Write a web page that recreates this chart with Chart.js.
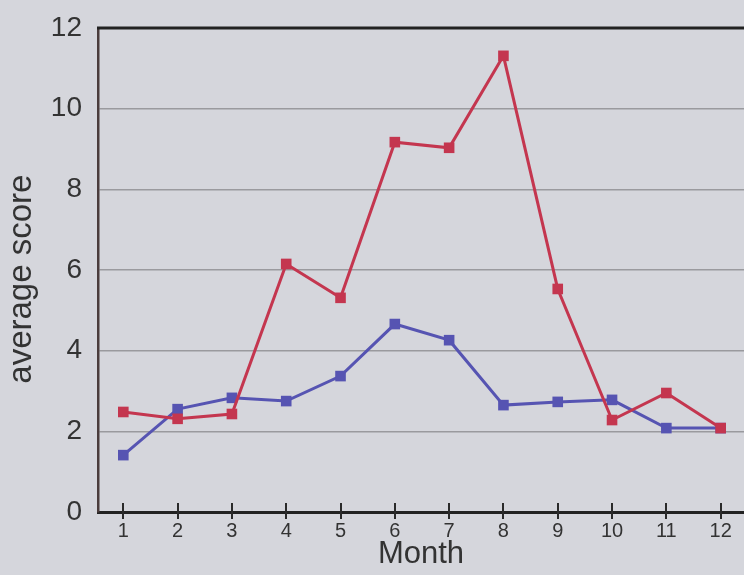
<!DOCTYPE html>
<html>
<head>
<meta charset="utf-8">
<script src="https://cdn.jsdelivr.net/npm/chart.js@4/dist/chart.umd.min.js"></script>
<style>
  html, body { margin: 0; padding: 0; background: #d5d6dc; }
  #wrap { width: 744px; height: 575px; position: relative; }
</style>
</head>
<body>
<div id="wrap"><canvas id="c" width="744" height="575"></canvas></div>
<script>
const months = [1, 2, 3, 4, 5, 6, 7, 8, 9, 10, 11, 12];
const redSeries = [2.48, 2.31, 2.43, 6.15, 5.31, 9.17, 9.03, 11.31, 5.53, 2.28, 2.95, 2.08];
const blueSeries = [1.41, 2.55, 2.83, 2.75, 3.37, 4.66, 4.26, 2.65, 2.73, 2.78, 2.08, 2.08];
const yTicks = [0, 2, 4, 6, 8, 10, 12];
const xTitle = 'Month';
const yTitle = 'average score';

const toPoints = (vals) => months.map((m, i) => ({ x: m, y: vals[i] }));

const frame = {
  id: 'frame',
  afterDatasetsDraw(chart) {
    const { ctx, chartArea } = chart;
    const xs = chart.scales.x;
    ctx.save();
    // top border
    ctx.strokeStyle = '#222222';
    ctx.lineWidth = 3;
    ctx.beginPath();
    ctx.moveTo(chartArea.left - 1, chartArea.top);
    ctx.lineTo(chartArea.right, chartArea.top);
    ctx.stroke();
    // tick marks crossing the x axis
    ctx.strokeStyle = '#2a2a2a';
    ctx.lineWidth = 2;
    months.forEach(m => {
      const px = Math.round(xs.getPixelForValue(m));
      ctx.beginPath();
      ctx.moveTo(px, chartArea.bottom - 9);
      ctx.lineTo(px, chartArea.bottom + 7);
      ctx.stroke();
    });
    ctx.restore();
  }
};

new Chart(document.getElementById('c'), {
  type: 'line',
  data: {
    datasets: [
      {
        data: toPoints(redSeries),
        borderColor: '#c4364f',
        backgroundColor: '#c4364f',
        borderWidth: 3,
        pointStyle: 'rect',
        pointRadius: 7.5,
        pointBorderWidth: 0,
        pointBackgroundColor: '#c4364f',
        tension: 0
      },
      {
        data: toPoints(blueSeries),
        borderColor: '#5654b2',
        backgroundColor: '#5654b2',
        borderWidth: 3,
        pointStyle: 'rect',
        pointRadius: 7.5,
        pointBorderWidth: 0,
        pointBackgroundColor: '#5654b2',
        tension: 0
      }
    ]
  },
  options: {
    responsive: false,
    animation: false,
    devicePixelRatio: 1,
    layout: { autoPadding: false, padding: { top: 28, right: 0, left: 0, bottom: 0 } },
    plugins: { legend: { display: false }, tooltip: { enabled: false } },
    scales: {
      x: {
        type: 'linear',
        min: 0.534,
        max: 12.43,
        afterBuildTicks(scale) { scale.ticks = months.map(v => ({ value: v })); },
        afterFit(scale) { scale.height = 63; scale.paddingLeft = 0; scale.paddingRight = 0; },
        grid: { display: false, drawTicks: false },
        border: { display: true, color: '#222222', width: 3 },
        ticks: {
          color: '#333333',
          padding: 7,
          autoSkip: false,
          maxRotation: 0,
          font: { family: 'Liberation Sans, Arial, sans-serif', size: 20 }
        },
        title: {
          display: true,
          text: xTitle,
          color: '#333333',
          padding: { top: 0, bottom: 2 },
          font: { family: 'Liberation Sans, Arial, sans-serif', size: 31 }
        }
      },
      y: {
        min: 0,
        max: 12,
        afterBuildTicks(scale) { scale.ticks = yTicks.map(v => ({ value: v })); },
        afterFit(scale) { scale.width = 98; scale.paddingTop = 0; scale.paddingBottom = 0; },
        grid: {
          drawTicks: false,
          color: (c) => (c.tick && (c.tick.value === 0 || c.tick.value === 12)) ? 'rgba(0,0,0,0)' : '#9a9a9e',
          lineWidth: 1.5
        },
        border: { display: true, color: '#4a3c3c', width: 2.5 },
        ticks: {
          color: '#333333',
          padding: 16,
          font: { family: 'Liberation Sans, Arial, sans-serif', size: 28 }
        },
        title: {
          display: true,
          text: yTitle + '  ',
          color: '#333333',
          padding: { top: 2, bottom: 0 },
          font: { family: 'Liberation Sans, Arial, sans-serif', size: 33 }
        }
      }
    }
  },
  plugins: [frame]
});
</script>
</body>
</html>
